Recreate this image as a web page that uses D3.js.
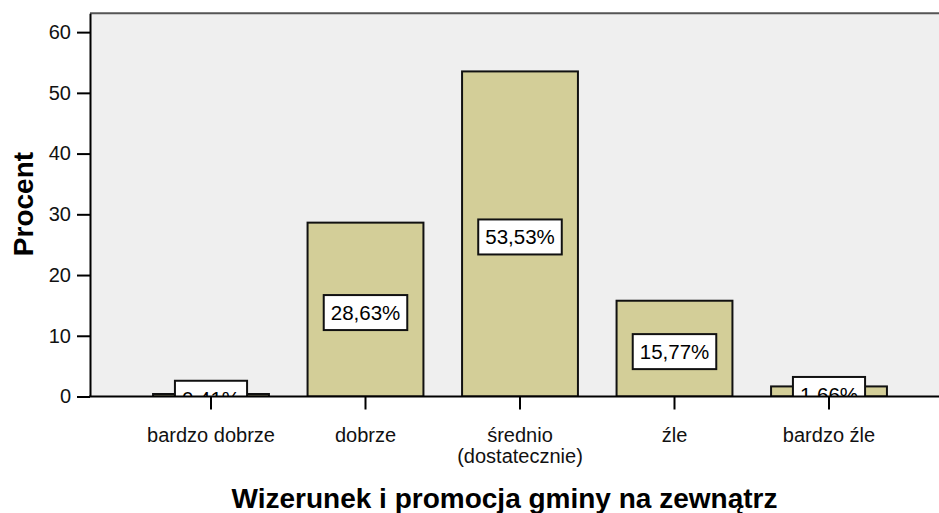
<!DOCTYPE html>
<html>
<head>
<meta charset="utf-8">
<script src="https://cdn.jsdelivr.net/npm/d3@7"></script>
<style>
body { margin: 0; background: #fff; }
svg { display: block; font-family: "Liberation Sans", Arial, sans-serif; }
</style>
</head>
<body>
<div id="chart"></div>
<script>
var categories = ["bardzo dobrze", "dobrze", "średnio\n(dostatecznie)", "źle", "bardzo źle"];
var percents = [0.41, 28.63, 53.53, 15.77, 1.66];
var yTicks = [0, 10, 20, 30, 40, 50, 60];
var yTitle = "Procent";
var xTitle = "Wizerunek i promocja gminy na zewnątrz";

var width = 939, height = 513;
var plot = {left: 90, top: 13.3, right: 939, bottom: 396.5};

var pl = d3.formatLocale({decimal: ",", thousands: " ", grouping: [3], currency: ["", " zł"]});
var fmt = pl.format(".2f");

var svg = d3.select("#chart").append("svg")
	.attr("width", width)
	.attr("height", height);

var x = d3.scaleBand()
	.domain(categories)
	.range([133.75, 906.25])
	.paddingInner(0.25)
	.paddingOuter(0.125);

var y = d3.scaleLinear()
	.domain([0, 63.1])
	.range([plot.bottom, plot.top]);

// plot background
svg.append("rect")
	.attr("x", plot.left)
	.attr("y", plot.top)
	.attr("width", plot.right - plot.left)
	.attr("height", plot.bottom - plot.top)
	.style("fill", "#efefef");

svg.append("line")
	.attr("x1", plot.left).attr("x2", plot.right)
	.attr("y1", plot.top).attr("y2", plot.top)
	.style("stroke", "#555")
	.style("stroke-width", 2);

svg.append("clipPath").attr("id", "clip")
	.append("rect")
	.attr("x", plot.left)
	.attr("y", plot.top)
	.attr("width", plot.right - plot.left)
	.attr("height", plot.bottom - plot.top);

var data = categories.map(function (c, i) {
	return {cat: c, v: percents[i]};
});

var inner = svg.append("g").attr("clip-path", "url(#clip)");

inner.selectAll("rect.bar")
	.data(data)
	.enter()
	.append("rect")
	.attr("class", "bar")
	.attr("x", function (d) { return x(d.cat); })
	.attr("y", function (d) { return y(d.v); })
	.attr("width", x.bandwidth())
	.attr("height", function (d) { return y(0) - y(d.v); })
	.style("fill", "#d3ce98")
	.style("stroke", "#111")
	.style("stroke-width", 2);

// value labels
var lab = inner.selectAll("g.lab")
	.data(data)
	.enter()
	.append("g")
	.attr("class", "lab")
	.attr("transform", function (d) {
		var cx = x(d.cat) + x.bandwidth() / 2;
		var cy = (y(d.v) + y(0)) / 2 + 3;
		return "translate(" + cx + "," + cy + ")";
	});

lab.append("text")
	.attr("text-anchor", "middle")
	.attr("dy", "0.36em")
	.style("font-size", "20.5px")
	.style("fill", "#000")
	.text(function (d) { return fmt(d.v) + "%"; })
	.each(function () {
		var w = this.getComputedTextLength();
		d3.select(this.parentNode).insert("rect", "text")
			.attr("x", -w / 2 - 7)
			.attr("y", -17.5)
			.attr("width", w + 14)
			.attr("height", 35)
			.style("fill", "#fff")
			.style("stroke", "#111")
			.style("stroke-width", 2);
	});

// y axis
var yAxis = svg.append("g")
	.attr("transform", "translate(" + plot.left + ",0)")
	.call(d3.axisLeft(y).tickValues(yTicks).tickSize(13).tickSizeOuter(0).tickPadding(6));

yAxis.select(".domain").style("stroke", "#000").style("stroke-width", 2);
yAxis.selectAll(".tick line").style("stroke", "#000").style("stroke-width", 2);
yAxis.selectAll(".tick text")
	.style("font-size", "20px")
	.style("font-family", "'Liberation Sans', Arial, sans-serif")
	.style("fill", "#111");

// x axis
var xAxis = svg.append("g")
	.attr("transform", "translate(0," + plot.bottom + ")")
	.call(d3.axisBottom(x).tickSize(13).tickSizeOuter(0).tickFormat(""));

xAxis.select(".domain").remove();
xAxis.selectAll(".tick line").style("stroke", "#000").style("stroke-width", 2);

svg.append("line")
	.attr("x1", plot.left - 1).attr("x2", plot.right)
	.attr("y1", plot.bottom).attr("y2", plot.bottom)
	.style("stroke", "#000")
	.style("stroke-width", 2);

svg.selectAll("text.cat")
	.data(categories)
	.enter()
	.append("text")
	.attr("class", "cat")
	.attr("text-anchor", "middle")
	.attr("x", function (d) { return x(d) + x.bandwidth() / 2; })
	.attr("y", 442.3)
	.style("font-size", "20px")
	.style("fill", "#111")
	.each(function (d) {
		var t = d3.select(this);
		d.split("\n").forEach(function (line, i) {
			t.append("tspan")
				.attr("x", x(d) + x.bandwidth() / 2)
				.attr("dy", i ? 21 : 0)
				.text(line);
		});
	});

// axis titles
svg.append("text")
	.attr("text-anchor", "middle")
	.attr("transform", "translate(33,204) rotate(-90)")
	.style("font-size", "28px")
	.style("font-weight", "bold")
	.style("fill", "#000")
	.text(yTitle);

svg.append("text")
	.attr("text-anchor", "middle")
	.attr("x", 504.5)
	.attr("y", 508.3)
	.style("font-size", "28px")
	.style("font-weight", "bold")
	.style("fill", "#000")
	.text(xTitle);
</script>
</body>
</html>
